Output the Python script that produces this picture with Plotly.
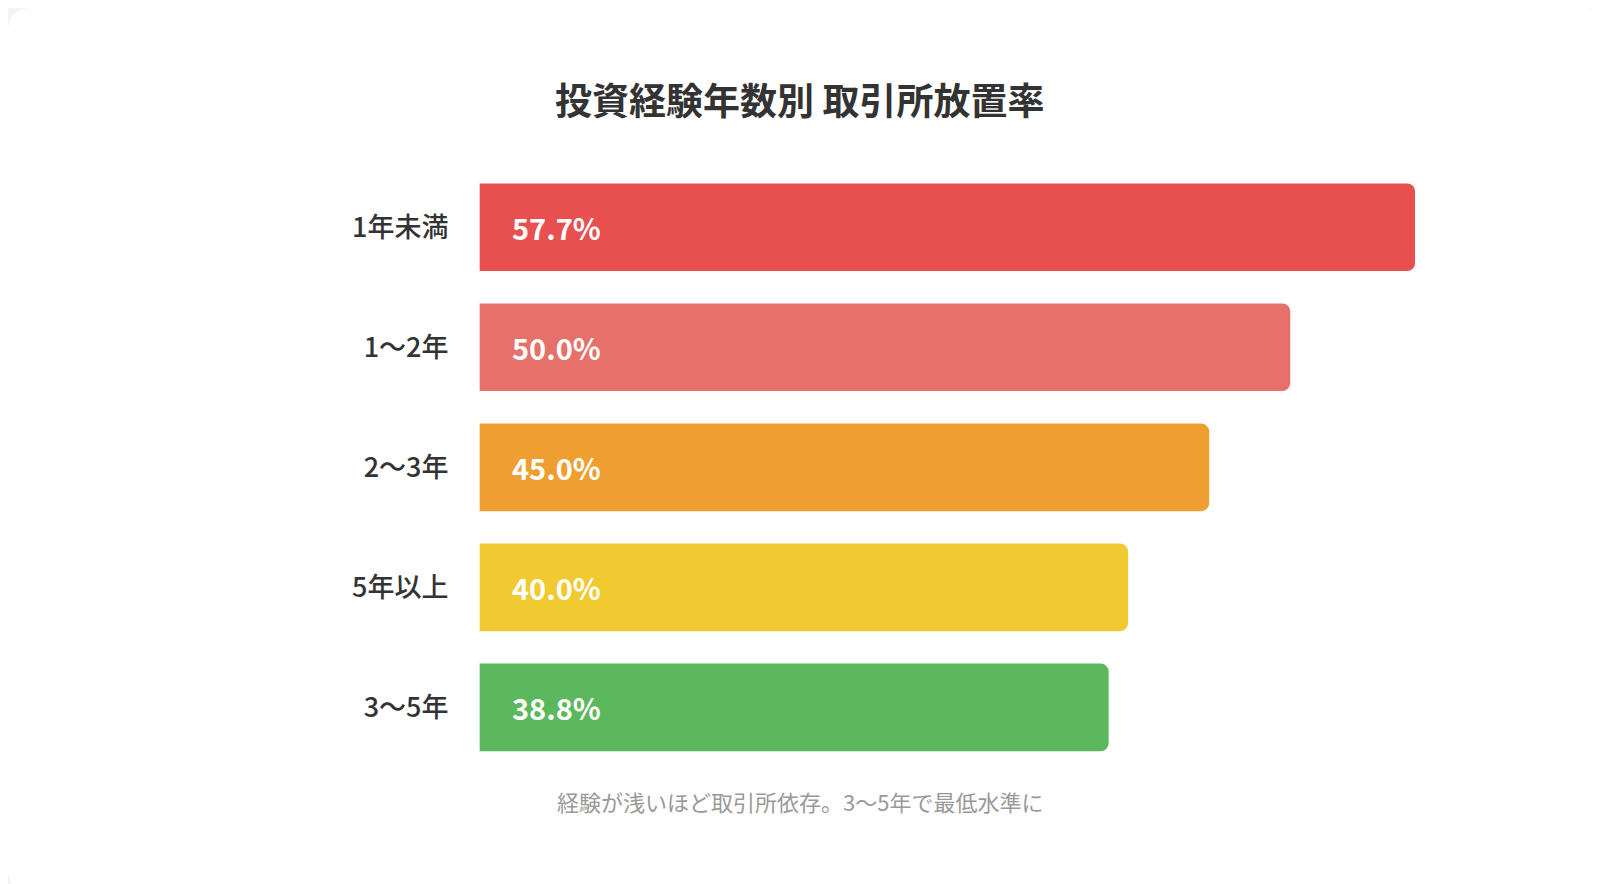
import plotly.graph_objects as go

categories = ["1年未満", "1〜2年", "2〜3年", "5年以上", "3〜5年"]
values = [57.7, 50.0, 45.0, 40.0, 38.8]
labels = ["57.7%", "50.0%", "45.0%", "40.0%", "38.8%"]
colors = ["#e84f4f", "#e6706a", "#ef9f32", "#f0ca30", "#5cb85c"]

W, H = 1600, 884
dx, dy = 8, 8
fig = go.Figure(go.Bar(
    x=values, y=categories, orientation="h",
    marker=dict(color=colors, line=dict(width=0), cornerradius=8),
    width=0.73, hoverinfo="skip",
))
for c, l in zip(categories, labels):
    fig.add_annotation(x=0, y=c, text=f"<b>{l}</b>", xanchor="left", xshift=31,
                       showarrow=False, font=dict(size=29, color="white", family="Noto Sans CJK JP"))

r = 24
path = (f"M {r/W},0 L {1-r/W},0 Q 1,0 1,{r/H} L 1,{1-r/H} Q 1,1 {1-r/W},1 "
        f"L {r/W},1 Q 0,1 0,{1-r/H} L 0,{r/H} Q 0,0 {r/W},0 Z")
fig.add_shape(type="path", path=path, xref="paper", yref="paper",
              fillcolor="white", line=dict(width=0), layer="below")

fig.add_annotation(text="<b>投資経験年数別 取引所放置率</b>", x=(784 - dx) / 1568, y=1 - (97 - dy) / 866,
                   xref="paper", yref="paper", xanchor="center", yanchor="middle",
                   showarrow=False, font=dict(size=37, color="#333333", family="Noto Sans CJK JP"))
fig.add_annotation(text="経験が浅いほど取引所依存。3〜5年で最低水準に", x=(784 - dx) / 1568, y=1 - (785 - dy) / 866,
                   xref="paper", yref="paper", xanchor="center", yanchor="middle", showarrow=False,
                   font=dict(size=22, color="#999999", family="Noto Sans CJK JP"))

fig.update_layout(
    width=W, height=H,
    margin=dict(l=0, r=0, t=0, b=0),
    paper_bgcolor="#f3f3f3", plot_bgcolor="rgba(0,0,0,0)",
    showlegend=False,
    xaxis=dict(domain=[(470 - dx) / 1568, (1387 - dx) / 1568], range=[0, 57.7], visible=False, fixedrange=True),
    yaxis=dict(domain=[1 - (752 - dy) / 866, 1 - (164 - dy) / 866], autorange="reversed",
               showgrid=False, zeroline=False, showline=False, ticks="",
               ticklabelstandoff=30,
               tickfont=dict(size=27, color="#333333", family="Noto Sans CJK JP", weight=500)),
    bargap=0.27,
)
fig.write_html("out.html")
